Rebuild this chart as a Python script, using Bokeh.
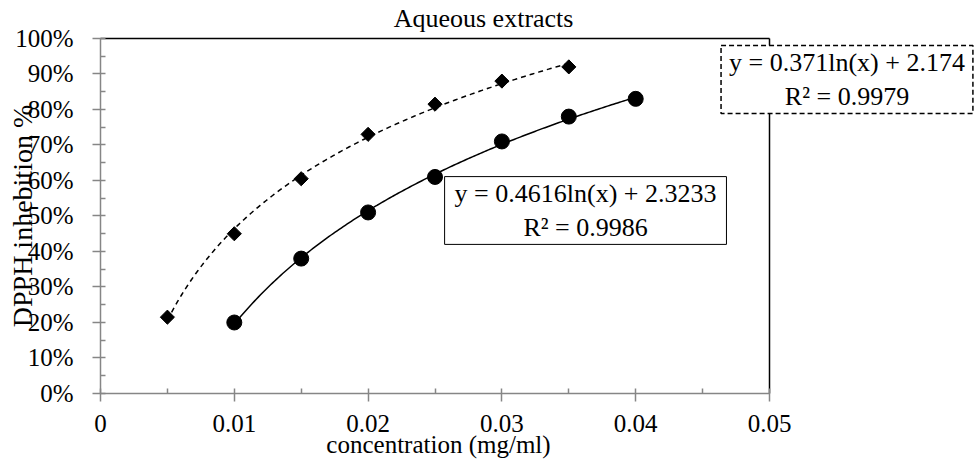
import numpy as np
from bokeh.plotting import figure
from bokeh.models import Label, NumeralTickFormatter, FixedTicker, Range1d
from bokeh.embed import file_html
from bokeh.resources import INLINE

# ---- data ----
title_text = "Aqueous extracts"
x_title = "concentration (mg/ml)"
y_title = "DPPH inhebition %"

conc_a = [0.005, 0.01, 0.015, 0.02, 0.025, 0.03, 0.035]
inhib_a = [0.215, 0.45, 0.605, 0.73, 0.815, 0.88, 0.92]

conc_b = [0.01, 0.015, 0.02, 0.025, 0.03, 0.035, 0.04]
inhib_b = [0.20, 0.38, 0.51, 0.61, 0.71, 0.78, 0.83]

eq_a = ["y = 0.371ln(x) + 2.174", "R\u00b2 = 0.9979"]
eq_b = ["y = 0.4616ln(x) + 2.3233", "R\u00b2 = 0.9986"]

x_ticks = [0, 0.01, 0.02, 0.03, 0.04, 0.05]
x_tick_labels = ["0", "0.01", "0.02", "0.03", "0.04", "0.05"]
y_ticks = [0, 0.1, 0.2, 0.3, 0.4, 0.5, 0.6, 0.7, 0.8, 0.9, 1.0]

FONT = "Liberation Serif"
AXIS_GRAY = "#868686"

# The frame covers the whole canvas; the axes are pinned at x=0 / y=0 and bounded
# to the plot area, so titles and the outer equation box can be drawn as labels.
p = figure(width=977, height=459,
           x_range=Range1d(-0.007474, 0.065545), y_range=Range1d(-0.18592, 1.10704),
           output_backend="svg", toolbar_location=None,
           min_border_left=0, min_border_right=0, min_border_top=0, min_border_bottom=0)
p.outline_line_color = None
p.grid.visible = False
p.background_fill_color = "white"
p.border_fill_color = "white"

x_minor = [(a + b) / 2 for a, b in zip(x_ticks[:-1], x_ticks[1:])]
y_minor = [(a + b) / 2 for a, b in zip(y_ticks[:-1], y_ticks[1:])]
p.xaxis.ticker = FixedTicker(ticks=x_ticks, minor_ticks=x_minor)
p.yaxis.ticker = FixedTicker(ticks=y_ticks, minor_ticks=y_minor)
p.xaxis.bounds = (x_ticks[0], x_ticks[-1])
p.yaxis.bounds = (y_ticks[0], y_ticks[-1])
p.xaxis.fixed_location = y_ticks[0]
p.yaxis.fixed_location = x_ticks[0]
p.xaxis.major_label_overrides = {t: l for t, l in zip(x_ticks, x_tick_labels)}
p.yaxis.formatter = NumeralTickFormatter(format="0%")

for ax in (p.xaxis, p.yaxis):
    ax.axis_line_color = AXIS_GRAY
    ax.axis_line_width = 1.5
    ax.major_tick_line_color = AXIS_GRAY
    ax.major_tick_line_width = 1.5
    ax.minor_tick_line_color = AXIS_GRAY
    ax.minor_tick_line_width = 1.5
    ax.major_tick_in = 5
    ax.major_tick_out = 8
    ax.minor_tick_in = 5
    ax.minor_tick_out = 0
    ax.major_label_text_font = FONT
    ax.major_label_text_font_size = "25px"
    ax.major_label_text_color = "black"
p.yaxis.major_label_standoff = 19
p.xaxis.major_label_standoff = 14

# plot-area border (top and right), black
p.segment(x0=[x_ticks[0], x_ticks[-1]], y0=[y_ticks[-1], y_ticks[0]],
          x1=[x_ticks[-1], x_ticks[-1]], y1=[y_ticks[-1], y_ticks[-1]],
          line_color="black", line_width=1.5)

# logarithmic trendlines fitted to the data
def log_trend(xs, ys):
    k, c = np.polyfit(np.log(xs), ys, 1)
    xx = np.linspace(min(xs), max(xs), 200)
    return xx, k * np.log(xx) + c

xa, ya = log_trend(conc_a, inhib_a)
xb, yb = log_trend(conc_b, inhib_b)
p.line(xa, ya, line_color="black", line_width=1.5, line_dash="5 4")
p.line(xb, yb, line_color="black", line_width=1.5)

p.scatter(conc_a, inhib_a, marker="square", angle=np.pi / 4, size=10,
          fill_color="black", line_color="black")
p.scatter(conc_b, inhib_b, marker="circle", size=15,
          fill_color="black", line_color="black")

# equation boxes
p.add_layout(Label(x=0.03625, y=0.5155, text="\n".join(eq_b), text_align="center",
                   text_baseline="middle", text_font=FONT, text_font_size="26px",
                   text_color="black", border_line_color="black", border_line_width=1,
                   background_fill_color="white",
                   padding=dict(left=10, right=10, top=2, bottom=2)))
p.add_layout(Label(x=0.05579, y=0.8845, text="\n".join(eq_a), text_align="center",
                   text_baseline="middle", text_font=FONT, text_font_size="26px",
                   text_color="black", border_line_color="black", border_line_width=1.5,
                   border_line_dash="5 3", background_fill_color="white",
                   padding=dict(left=8, right=8, top=2, bottom=2)))

# chart and axis titles
p.add_layout(Label(x=0.02863, y=1.0563, text=title_text, text_align="center",
                   text_baseline="middle", text_font=FONT,
                   text_font_size="26px", text_color="black"))
p.add_layout(Label(x=0.02526, y=-0.1425, text=x_title, text_align="center",
                   text_baseline="middle", text_font=FONT,
                   text_font_size="25px", text_color="black"))
p.add_layout(Label(x=-0.00583, y=0.5, text=y_title, angle=np.pi / 2, text_align="center",
                   text_baseline="middle", text_font=FONT,
                   text_font_size="28px", text_color="black"))

open("out.html", "w").write(file_html(p, INLINE))
